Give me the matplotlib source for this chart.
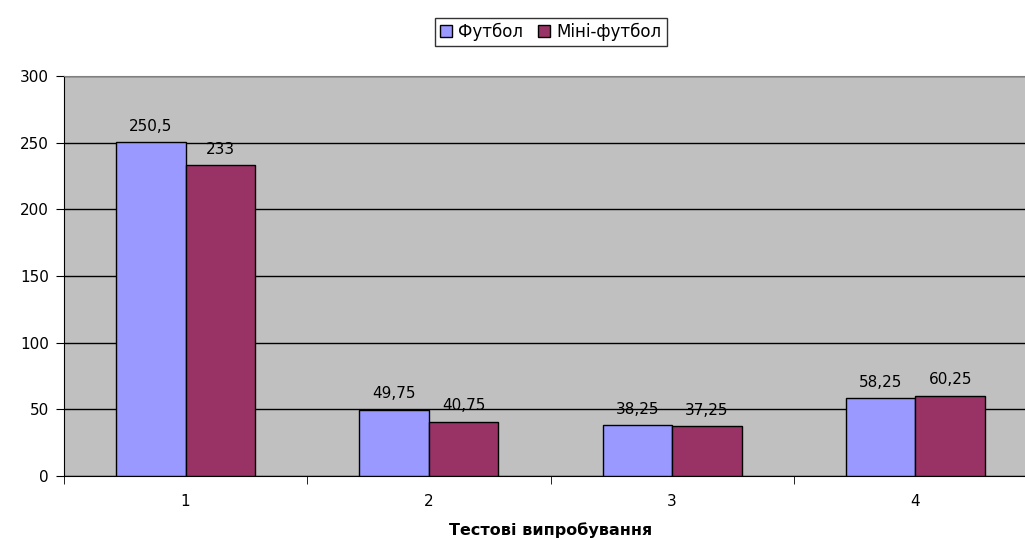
import numpy as np
import matplotlib.pyplot as plt

plt.rcParams['font.family'] = ['DejaVu Sans']

categories = ['1', '2', '3', '4']
football = [250.5, 49.75, 38.25, 58.25]
mini_football = [233, 40.75, 37.25, 60.25]
series_names = ['Футбол', 'Міні-футбол']
xlabel = 'Тестові випробування'

def fmt(v):
    s = ('%g' % v).replace('.', ',')
    return s

fig = plt.figure(figsize=(10.25, 5.4), dpi=100)
ax = fig.add_axes([64 / 1025, 64 / 540, (1037 - 64) / 1025, 400 / 540])
ax.set_facecolor('#C0C0C0')

x = np.arange(len(categories))
w = 1 / 3.5
b1 = ax.bar(x - w / 2, football, w, color='#9999FF', edgecolor='black', linewidth=1, label=series_names[0], zorder=3)
b2 = ax.bar(x + w / 2, mini_football, w, color='#993366', edgecolor='black', linewidth=1, label=series_names[1], zorder=3)

for bars, vals in [(b1, football), (b2, mini_football)]:
    for r, v in zip(bars, vals):
        ax.annotate(fmt(v), (r.get_x() + r.get_width() / 2, v), xytext=(0, 6),
                    textcoords='offset points', ha='center', va='bottom', fontsize=11)

ax.set_xlim(-0.5, 3.5)
ax.set_ylim(0, 300)
ax.set_yticks(range(0, 301, 50))
ax.yaxis.grid(True, color='black', linewidth=1, zorder=1)
ax.set_axisbelow(True)

ax.set_xticks(x)
ax.set_xticklabels(categories)
ax.set_xticks(np.arange(-0.5, 4, 1), minor=True)
ax.tick_params(axis='x', which='major', length=0, pad=13, labelsize=11)
ax.tick_params(axis='x', which='minor', length=6, direction='out', color='black')
ax.tick_params(axis='y', length=6, direction='out', labelsize=11, pad=5)

for s in ['top', 'right']:
    ax.spines[s].set_color('#808080')
for s in ['left', 'bottom']:
    ax.spines[s].set_color('black')

ax.set_xlabel(xlabel, fontsize=11.5, fontweight='bold')
ax.xaxis.set_label_coords((551 - 64) / (1037 - 64), -0.135)
ax.xaxis.label.set_va('center')

leg = ax.legend(loc='center', bbox_to_anchor=(551 / 1025, 508 / 540), bbox_transform=fig.transFigure,
                ncol=2, frameon=True, fancybox=False, edgecolor='black', fontsize=12,
                handlelength=0.7, handleheight=0.7, handletextpad=0.4, columnspacing=0.9,
                borderpad=0.3, borderaxespad=0.2)
leg.get_frame().set_linewidth(1)

fig.savefig('out.png', dpi=100)
